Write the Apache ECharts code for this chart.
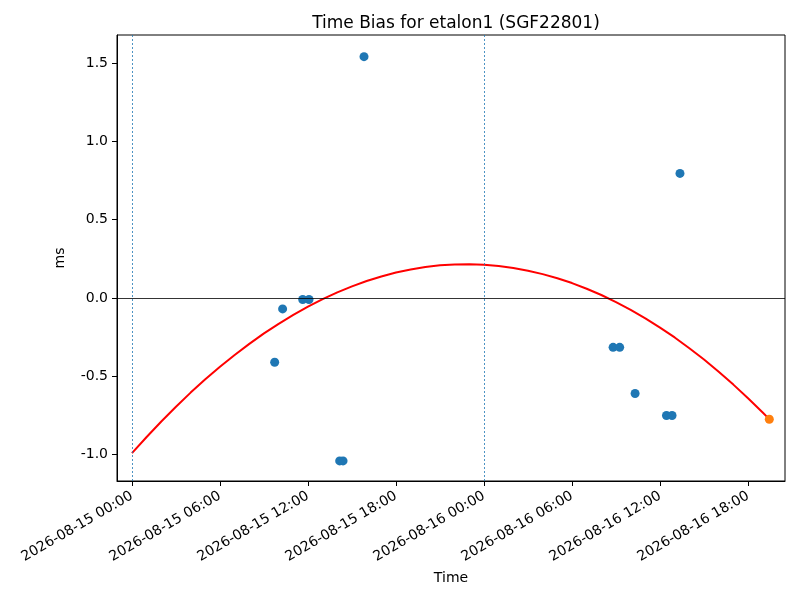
<!DOCTYPE html>
<html>
<head>
<meta charset="utf-8">
<script src="https://cdn.jsdelivr.net/npm/echarts@6/dist/echarts.min.js"></script>
<style>
  html, body { margin: 0; padding: 0; background: #fff; }
  #chart { width: 800px; height: 600px; }
</style>
</head>
<body>
<div id="chart"></div>
<script>
// x positions are hours counted from 2026-08-15 00:00 UTC
const START = Date.UTC(2026, 7, 15, 0, 0)
const HOUR = 3600 * 1000

const biasHours = [9.73, 10.27, 11.64, 12.07, 14.16, 14.39, 15.82, 32.80, 33.25, 34.30, 36.44, 36.82, 37.36]
const biasValues = [-0.41, -0.07, -0.01, -0.01, -1.04, -1.04, 1.54, -0.315, -0.315, -0.61, -0.75, -0.75, 0.795]

const lastHours = [43.45]
const lastValues = [-0.774]

const fitHours = [0, 1, 2, 3, 4, 5, 6, 7, 8, 9, 10, 11, 12, 13, 14, 15, 16, 17, 18, 19, 20, 21,
    22, 23, 24, 25, 26, 27, 28, 29, 30, 31, 32, 33, 34, 35, 36, 37, 38, 39, 40, 41, 42, 43, 43.45]
const fitValues = [-0.990, -0.887, -0.788, -0.694, -0.604, -0.519, -0.439, -0.364, -0.293, -0.226,
    -0.165, -0.108, -0.055, -0.008, 0.036, 0.074, 0.108, 0.137, 0.162, 0.182, 0.197, 0.208,
    0.214, 0.215, 0.212, 0.204, 0.191, 0.174, 0.152, 0.126, 0.095, 0.059, 0.019, -0.026,
    -0.076, -0.130, -0.189, -0.252, -0.321, -0.393, -0.471, -0.553, -0.640, -0.731, -0.773]

const dayLines = [0, 24]
const xTickHours = [0, 6, 12, 18, 24, 30, 36, 42]
const yTicks = [-1.0, -0.5, 0.0, 0.5, 1.0, 1.5]

const pair = (hs, vs) => hs.map((h, i) => [h, vs[i]])

const pad = n => String(n).padStart(2, '0')
function fmtTime(h) {
    const d = new Date(START + h * HOUR)
    return d.getUTCFullYear() + '-' + pad(d.getUTCMonth() + 1) + '-' + pad(d.getUTCDate()) +
        ' ' + pad(d.getUTCHours()) + ':' + pad(d.getUTCMinutes())
}

const FONT = 'DejaVu Sans'
const chart = echarts.init(document.getElementById('chart'))
chart.setOption({
    animation: false,
    title: {
        text: 'Time Bias for etalon1 (SGF22801)',
        left: 451, top: 10, textAlign: 'center',
        textStyle: { fontFamily: FONT, fontSize: 17, fontWeight: 'normal', color: '#000' }
    },
    grid: {
        left: 117, right: 15, top: 35, bottom: 119,
        show: true, borderColor: '#000', borderWidth: 1, containLabel: false
    },
    xAxis: {
        type: 'value',
        min: -1.02,
        max: 44.52,
        name: 'Time',
        nameLocation: 'middle',
        nameGap: 90,
        nameTextStyle: { fontFamily: FONT, fontSize: 14, color: '#000' },
        axisLine: { show: true, onZero: false, lineStyle: { color: '#000', width: 1 } },
        axisTick: { show: true, inside: false, length: 5, lineStyle: { color: '#000' },
            customValues: xTickHours },
        axisLabel: {
            rotate: 30, margin: 14, fontFamily: FONT, fontSize: 14, color: '#000',
            customValues: xTickHours,
            formatter: v => fmtTime(v)
        },
        splitLine: { show: false }
    },
    yAxis: {
        type: 'value',
        min: -1.168,
        max: 1.678,
        name: 'ms',
        nameLocation: 'middle',
        nameGap: 50,
        nameTextStyle: { fontFamily: FONT, fontSize: 14, color: '#000' },
        axisLine: { show: true, onZero: false, lineStyle: { color: '#000', width: 1 } },
        axisTick: { show: true, inside: false, length: 5, lineStyle: { color: '#000' },
            customValues: yTicks },
        axisLabel: {
            margin: 9, fontFamily: FONT, fontSize: 14, color: '#000',
            customValues: yTicks,
            formatter: v => v.toFixed(1)
        },
        splitLine: { show: false }
    },
    series: [
        {
            type: 'line',
            data: [],
            silent: true,
            markLine: {
                symbol: 'none', silent: true, label: { show: false },
                data: dayLines.map(h => ({ xAxis: h,
                    lineStyle: { color: '#1f77b4', type: [2, 2], width: 0.8 } }))
                    .concat([{ yAxis: 0, lineStyle: { color: '#000', type: 'solid', width: 0.8 } }])
            },
            z: 1
        },
        {
            type: 'scatter',
            data: pair(biasHours, biasValues),
            symbolSize: 9,
            itemStyle: { color: '#1f77b4', opacity: 1 },
            z: 2
        },
        {
            type: 'line',
            data: pair(fitHours, fitValues),
            smooth: false,
            showSymbol: false,
            lineStyle: { color: '#ff0000', width: 2 },
            z: 3
        },
        {
            type: 'scatter',
            data: pair(lastHours, lastValues),
            symbolSize: 9,
            itemStyle: { color: '#ff7f0e', opacity: 1 },
            z: 4
        }
    ]
})
</script>
</body>
</html>
